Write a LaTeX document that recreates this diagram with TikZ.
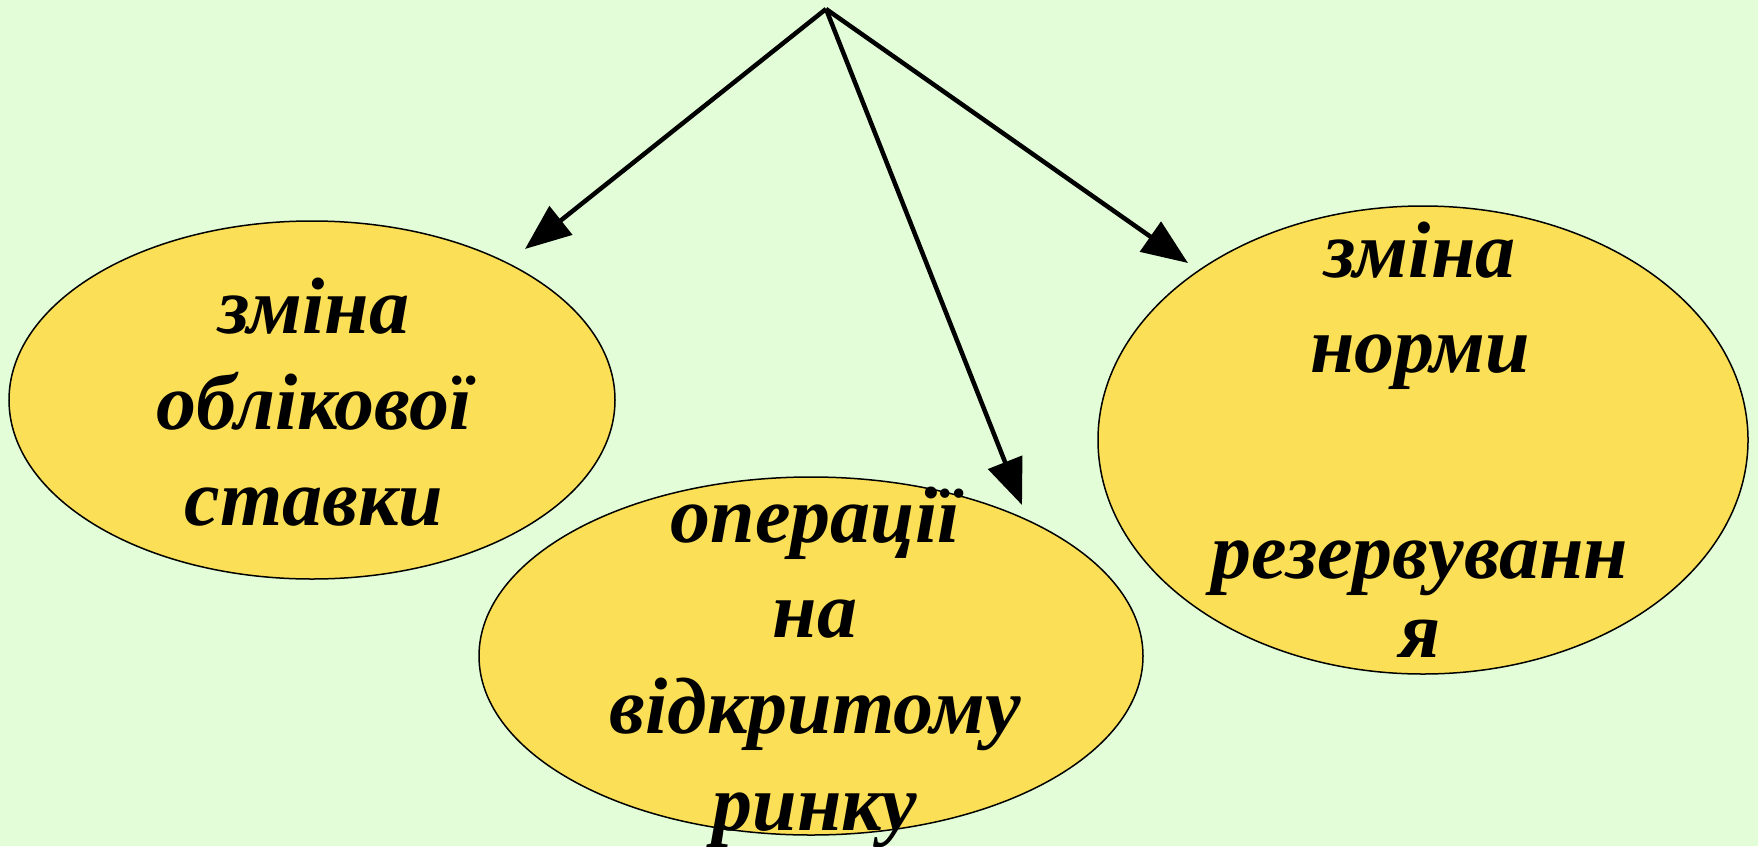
\documentclass[tikz,border=0pt]{standalone}
\usepackage{fontspec}
\setmainfont{Liberation Serif}
\usetikzlibrary{arrows.meta,shapes.geometric}
\definecolor{bgc}{RGB}{227,253,217}
\definecolor{ellc}{RGB}{251,223,86}
\begin{document}
\begin{tikzpicture}[x=1pt,y=-1pt,
  ell/.style={ellipse,draw=black,line width=1.5pt,fill=ellc,inner sep=0pt},
  lbl/.style={anchor=base,inner sep=0pt,font=\fontsize{80}{96}\selectfont\bfseries\itshape},
  arr/.style={line width=4.5pt,-{Triangle[length=46pt,width=36pt]}}]
\fill[bgc] (0,0) rectangle (1758,846);
\useasboundingbox (0,0) rectangle (1758,846);
% ellipses
\node[ell,minimum width=606pt,minimum height=358pt] (left) at (312,400) {};
\node[ell,minimum width=664pt,minimum height=358pt] (mid) at (811,656) {};
\node[ell,minimum width=650pt,minimum height=468pt] (right) at (1423,440) {};
% texts
\node[lbl] (l1) at (314,333) {зміна};
\node[lbl] (l2) at (314,429) {облікової};
\node[lbl] (l3) at (314,525) {ставки};
\node[lbl] (m1) at (815,542) {операції};
\node[lbl] (m2) at (815,637) {на};
\node[lbl] (m3) at (815,733) {відкритому};
\node[lbl] (m4) at (815,830) {ринку};
\node[lbl] (r1) at (1420,277) {зміна};
\node[lbl] (r2) at (1420,372) {норми};
\node[lbl] (r3) at (1420,578) {резервуванн};
\node[lbl] (r4) at (1420,657) {я};
% arrows
\coordinate (top) at (826,9);
\coordinate (tl) at (525,249);
\coordinate (tm) at (1022,505);
\coordinate (tr) at (1188,263);
\draw[arr] (top) -- (tl);
\draw[arr] (top) -- (tm);
\draw[arr] (top) -- (tr);
\end{tikzpicture}
\end{document}
